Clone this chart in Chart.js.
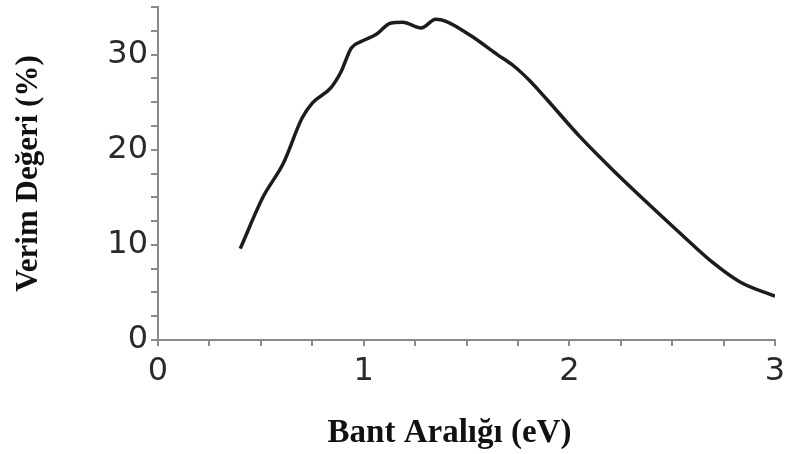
<!DOCTYPE html>
<html>
<head>
<meta charset="utf-8">
<title>Verim - Bant Aralığı</title>
<script src="https://cdn.jsdelivr.net/npm/chart.js@4.4.1/dist/chart.umd.min.js"></script>
<style>
    html, body { margin: 0; padding: 0; background: #fff; }
    #wrap { width: 785px; height: 454px; }
</style>
</head>
<body>
<div id="wrap"><canvas id="verimChart" width="785" height="454"></canvas></div>
<script>
    // Bant aralığı (eV) ve verim (%) değerleri
    const bandGap = [0.40, 0.51, 0.61, 0.70, 0.75, 0.84, 0.89, 0.94, 0.99, 1.06, 1.13, 1.19, 1.28, 1.35,
                     1.40, 1.52, 1.65, 1.73, 1.81, 1.89, 2.05, 2.21, 2.38, 2.54, 2.70, 2.83, 3.00];
    const efficiency = [9.6, 15.0, 18.6, 23.3, 24.9, 26.5, 28.2, 30.7, 31.4, 32.1, 33.3, 33.4, 32.8, 33.7,
                        33.5, 32.0, 30.0, 28.8, 27.2, 25.3, 21.4, 17.9, 14.4, 11.2, 8.1, 6.1, 4.6];

    // Etiketli ana çentikler
    const xMajorTicks = [0, 1, 2, 3];
    const yMajorTicks = [0, 10, 20, 30];

    const xTitle = 'Bant Aralığı (eV)';
    const yTitle = 'Verim Değeri (%)';

    const axisColor = '#8a8a8a';
    const tickFont = { family: 'DejaVu Sans', size: 32 };
    const titleFont = { family: 'Liberation Serif', size: 31, weight: 'bold' };

    const points = bandGap.map((x, i) => ({ x: x, y: efficiency[i] }));

    // X ekseni başlığı: grafik alanının biraz soluna ortalanmış
    const bottomTitle = {
        id: 'bottomTitle',
        afterDraw(chart) {
            const c = chart.ctx;
            const area = chart.chartArea;
            c.save();
            c.font = 'bold 33px "Liberation Serif"';
            c.fillStyle = '#111';
            c.textAlign = 'center';
            c.textBaseline = 'alphabetic';
            c.fillText(xTitle, (area.left + area.right) / 2 - 17, chart.height - 12);
            c.restore();
        }
    };

    const ctx = document.getElementById('verimChart').getContext('2d');
    const verimChart = new Chart(ctx, {
        type: 'scatter',
        data: {
            datasets: [{
                data: points,
                showLine: true,
                borderColor: '#1c1c1c',
                borderWidth: 3.5,
                pointRadius: 0,
                cubicInterpolationMode: 'monotone',
                fill: false
            }]
        },
        plugins: [bottomTitle],
        options: {
            responsive: false,
            animation: false,
            devicePixelRatio: 1,
            layout: { padding: { top: 7, right: 10, left: 0, bottom: 0 } },
            plugins: {
                legend: { display: false },
                tooltip: { enabled: false }
            },
            scales: {
                x: {
                    type: 'linear',
                    min: 0,
                    max: 3,
                    afterFit: (scale) => {
                        scale.height = 114;
                        scale.paddingLeft = 0;
                        scale.paddingRight = 0;
                    },
                    border: { display: true, color: axisColor, width: 2 },
                    grid: { drawOnChartArea: false, drawTicks: true, tickLength: 6, color: axisColor, lineWidth: 2 },
                    ticks: {
                        stepSize: 0.25,
                        autoSkip: false,
                        maxRotation: 0,
                        padding: 6,
                        color: '#2a2a2a',
                        font: tickFont,
                        callback: (v) => xMajorTicks.includes(v) ? String(v) : ''
                    }
                },
                y: {
                    type: 'linear',
                    min: 0,
                    max: 35,
                    afterFit: (scale) => {
                        scale.width = 158;
                        scale.paddingTop = 0;
                        scale.paddingBottom = 0;
                    },
                    border: { display: true, color: axisColor, width: 2 },
                    grid: { drawOnChartArea: false, drawTicks: true, tickLength: 7, color: axisColor, lineWidth: 2 },
                    ticks: {
                        stepSize: 2.5,
                        autoSkip: false,
                        padding: 3,
                        color: '#2a2a2a',
                        font: tickFont,
                        callback: (v) => yMajorTicks.includes(v) ? String(v) : ''
                    },
                    title: {
                        display: true,
                        text: yTitle,
                        color: '#111',
                        font: titleFont,
                        padding: { top: 10, bottom: 0 }
                    }
                }
            }
        }
    });
</script>
</body>
</html>
